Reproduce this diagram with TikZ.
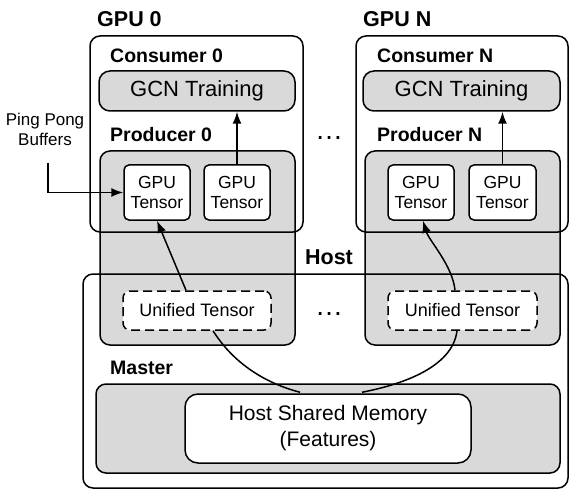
\documentclass[tikz,border=0pt]{standalone}
\usepackage{fontspec}
\setmainfont{Liberation Sans}
\usetikzlibrary{arrows.meta}
\definecolor{fillgray}{HTML}{D9D9D9}
\begin{document}
\begin{tikzpicture}[x=1pt,y=-1pt,
  box/.style={draw, line width=1.5pt, rounded corners=10pt, inner sep=0pt, anchor=center},
  graybox/.style={box, fill=fillgray},
  tensorbox/.style={box, fill=white, rounded corners=5pt, minimum width=66pt, minimum height=55pt, align=center, font=\fontsize{17.5}{20}\selectfont},
  unibox/.style={box, fill=white, dashed, dash pattern=on 9pt off 5pt, rounded corners=7pt, minimum width=148pt, minimum height=39pt, font=\fontsize{18}{21}\selectfont},
  gcnbox/.style={graybox, rounded corners=11pt, minimum width=196pt, minimum height=40pt, font=\fontsize{22}{26}\selectfont},
  title/.style={anchor=west, inner sep=0pt, font=\bfseries\fontsize{19.5}{23}\selectfont},
  bigtitle/.style={anchor=west, inner sep=0pt, font=\bfseries\fontsize{21.5}{25}\selectfont},
  dots/.style={inner sep=0pt, font=\fontsize{28}{30}\selectfont},
  arr/.style={line width=1.5pt, -{Latex[length=12pt,width=9pt]}},
  link/.style={line width=1.5pt}
]
\useasboundingbox (0,0) rectangle (570,489);

% producer regions (gray, underneath)
\node[graybox, minimum width=195pt, minimum height=194pt] (prod0) at (197.5,248) {};
\node[graybox, minimum width=195pt, minimum height=194pt] (prodN) at (462.5,248) {};

% GPU and host outlines
\node[box, minimum width=213pt, minimum height=196pt] (gpu0) at (196.5,134) {};
\node[box, minimum width=212pt, minimum height=196pt] (gpuN) at (462,134) {};
\node[box, minimum width=485pt, minimum height=214pt] (host) at (325.5,381) {};

% titles
\node[bigtitle] (lgpu0) at (97,19.5) {GPU 0};
\node[bigtitle] (lgpuN) at (363,19.5) {GPU N};
\node[bigtitle, anchor=center] (lhost) at (329,257.5) {Host};
\node[title] (lcons0) at (110,55.5) {Consumer 0};
\node[title] (lconsN) at (377,55.5) {Consumer N};
\node[title] (lprod0) at (110,135) {Producer 0};
\node[title] (lprodN) at (377,135) {Producer N};
\node[title] (lmaster) at (110,368) {Master};

% dots
\node[dots] (dots1) at (329,138) {…};
\node[dots] (dots2) at (329,314) {…};

% GCN training
\node[gcnbox] (gcn0) at (197,91) {GCN Training};
\node[gcnbox, minimum width=197pt] (gcnN) at (461.5,91) {GCN Training};

% GPU tensors
\node[tensorbox] (t01) at (157,192.5) {GPU\\Tensor};
\node[tensorbox] (t02) at (237,192.5) {GPU\\Tensor};
\node[tensorbox] (tN1) at (421,192.5) {GPU\\Tensor};
\node[tensorbox, minimum width=67pt] (tN2) at (502.5,192.5) {GPU\\Tensor};

% unified tensors
\node[unibox] (u0) at (197,310.5) {Unified Tensor};
\node[unibox, minimum width=149pt] (uN) at (462.5,310.5) {Unified Tensor};

% master
\node[graybox, minimum width=464pt, minimum height=89pt] (master) at (328,428.5) {};
\node[box, fill=white, rounded corners=13pt, minimum width=286pt, minimum height=69pt, align=center, font=\fontsize{21}{26}\selectfont] (hsm) at (328,428.5) {Host Shared Memory\\(Features)};

% ping pong label
\node[align=center, inner sep=0pt, font=\fontsize{17}{19.5}\selectfont] (ping) at (45,129.5) {Ping Pong\\Buffers};
\coordinate (pingstart) at (48,163);

% connectors
\draw[arr] (pingstart) |- (t01.west);
\draw[arr] (t02.north) -- (t02.north |- gcn0.south);
\draw[arr] (tN2.north) -- (tN2.north |- gcnN.south);
\draw[arr] ([xshift=-11pt]u0.north) -- (t01.south);
\draw[arr] ([xshift=-7.5pt]uN.north) .. controls ([xshift=-10pt,yshift=25pt]uN.north) and ([xshift=8pt,yshift=-20pt]tN1.south) .. ([xshift=2pt]tN1.south);
\draw[link] ([xshift=16pt]u0.south) .. controls ([xshift=40pt,yshift=-38pt]u0.south) and ([xshift=-55pt,yshift=8pt]hsm.north) .. ([xshift=-28pt,yshift=1pt]hsm.north);
\draw[link] ([xshift=-5.5pt]uN.south) .. controls ([xshift=-10pt,yshift=-38pt]uN.south) and ([xshift=70pt,yshift=8pt]hsm.north) .. ([xshift=34pt,yshift=1pt]hsm.north);
\end{tikzpicture}
\end{document}
